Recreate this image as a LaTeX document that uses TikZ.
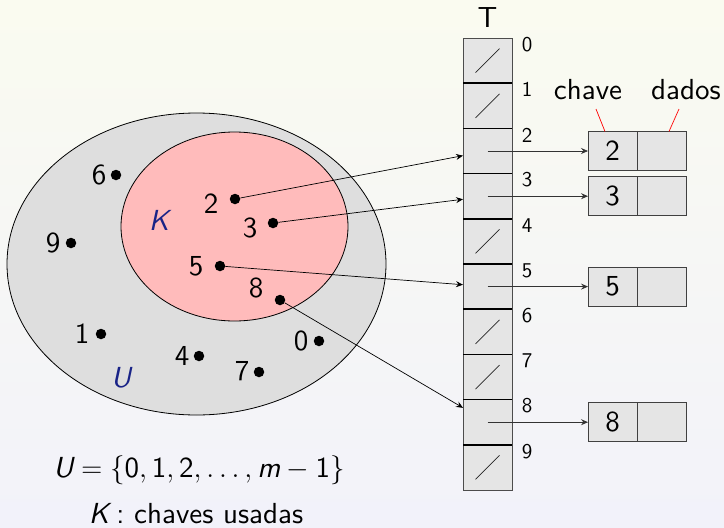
\documentclass[tikz,border=0pt]{standalone}
\usepackage{fix-cm}
\usepackage{fontspec}
% one fixed optical size for every text size
\setsansfont{lmsans10-regular.otf}[
  SlantedFont=lmsans10-oblique.otf,
  ItalicFont=lmsans10-oblique.otf,
  BoldFont=lmsans10-bold.otf]
\usetikzlibrary{arrows.meta,shapes.geometric}
\definecolor{structblue}{RGB}{25,35,135}
\definecolor{bgtop}{RGB}{250,251,240}
\definecolor{bgbottom}{RGB}{242,242,250}
\begin{document}
\begin{tikzpicture}[x=1pt,y=-1pt,
  font=\sffamily,
  bigtext/.style={font=\sffamily\fontsize{29}{32}\selectfont, inner sep=0pt},
  cell/.style={draw=black!70, fill=black!10, line width=0.8pt,
    minimum width=49pt, minimum height=45.2pt, inner sep=0pt, outer sep=0pt},
  field/.style={draw=black!75, fill=black!10, line width=0.8pt,
    minimum width=49pt, minimum height=39pt, inner sep=0pt, outer sep=0pt,
    font=\sffamily\fontsize{29}{32}\selectfont},
  idx/.style={font=\sffamily\fontsize{21}{24}\selectfont, inner sep=0pt},
  ptlabel/.style={bigtext},
  dot/.style={circle, fill=black, inner sep=0pt, minimum size=10.5pt},
  setlabel/.style={font=\sffamily\slshape\fontsize{29}{32}\selectfont, text=structblue, inner sep=0pt},
  arr/.style={-{Stealth[length=7pt,width=6pt,inset=2.5pt]}, line width=0.7pt},
  slash/.style={line width=0.7pt, black!85}
]
% background
\shade[top color=bgtop, bottom color=bgbottom] (0,0) rectangle (724,528);
\useasboundingbox (0,0) rectangle (724,528);

% sets U and K
\node[ellipse, draw=black, line width=0.8pt, fill=black!13, inner sep=0pt,
  minimum width=379pt, minimum height=302pt] (setU) at (196.5,264) {};
\node[ellipse, draw=black, line width=0.8pt, fill={rgb,255:red,255;green,187;blue,187}, inner sep=0pt,
  minimum width=227pt, minimum height=189pt] (setK) at (234.5,226.5) {};
\node[setlabel] (labK) at (159,220) {K};
\node[setlabel] (labU) at (121,378) {U};

% keys of the universe
\node[dot] (p6) at (116,175) {};  \node[ptlabel] (n6) at (99,175) {6};
\node[dot] (p2) at (235,199) {};  \node[ptlabel] (n2) at (211,204) {2};
\node[dot] (p3) at (273,223) {};  \node[ptlabel] (n3) at (250,228) {3};
\node[dot] (p9) at (71,243) {};   \node[ptlabel] (n9) at (53,243) {9};
\node[dot] (p5) at (220,266) {};  \node[ptlabel] (n5) at (196,266) {5};
\node[dot] (p8) at (280,300) {};  \node[ptlabel] (n8) at (256,288) {8};
\node[dot] (p1) at (101,334) {};  \node[ptlabel] (n1) at (82,334) {1};
\node[dot] (p4) at (199,356) {};  \node[ptlabel] (n4) at (182,356) {4};
\node[dot] (p7) at (259,372) {};  \node[ptlabel] (n7) at (242,371) {7};
\node[dot] (p0) at (319,341) {};  \node[ptlabel] (n0) at (301,341) {0};

% table T
\node[bigtext] (title) at (487.5,18) {T};
\foreach \i in {0,...,9} {
  \node[cell] (c\i) at (487.5,{60.6+45.2*\i}) {};
  \node[idx] (i\i) at ([shift={(15,6.5)}]c\i.north east) {\i};
}
\foreach \i in {1,...,9}
  \draw[line width=1.6pt] (c\i.north west) -- (c\i.north east);
\foreach \i in {0,1,4,6,7,9}
  \draw[slash] ([shift={(-12,12)}]c\i.center) -- ([shift={(12,-12)}]c\i.center);

% records (key, data)
\foreach \i in {2,3,5,8} {
  \node[field] (k\i) at ([xshift=125pt]c\i.center) {\i};
  \node[field, anchor=west] (d\i) at (k\i.east) {};
  \draw[arr, black!80] (c\i.center) -- (k\i.west);
}

% keys pointing into the table
\foreach \i in {2,3,5,8}
  \draw[arr] (p\i) -- (c\i);

% field names
\node[bigtext] (chave) at (588,90) {chave};
\node[bigtext] (dados) at (686,90) {dados};
\draw[red, line width=0.7pt] ([shift={(8,19)}]chave.center) -- ([xshift=-7.5pt]k2.north);
\draw[red, line width=0.7pt] ([shift={(-7,19)}]dados.center) -- ([xshift=7.5pt]d2.north);

% captions
\node[bigtext] (defU) at (199,470)
  {$\textsl{U} = \{\textsf{0}, \textsf{1}, \textsf{2}, \ldots, \textsl{m} - \textsf{1}\}$};
\node[bigtext, anchor=base] (defK) at (196,523)
  {\textsl{K}\,:\ chaves usadas};
\end{tikzpicture}
\end{document}
